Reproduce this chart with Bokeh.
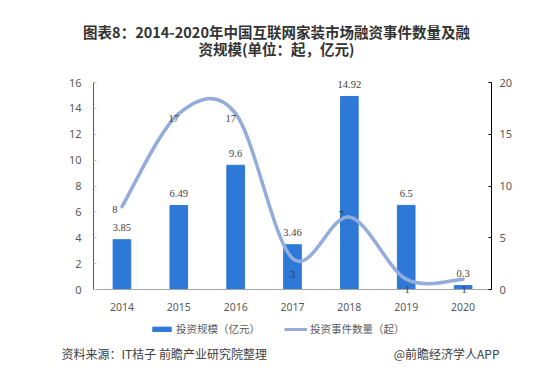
import numpy as np
from bokeh.plotting import figure
from bokeh.models import (Range1d, LinearAxis, FixedTicker, ColumnDataSource,
                          LabelSet, Label, Legend, LegendItem)
from bokeh.embed import file_html
from bokeh.resources import INLINE

# ---------------- data ----------------
years = ["2014", "2015", "2016", "2017", "2018", "2019", "2020"]
amounts = [3.85, 6.49, 9.6, 3.46, 14.92, 6.5, 0.3]        # 投资规模（亿元）
events = [8, 17, 17, 3, 7, 1, 1]                           # 投资事件数量（起）
amount_ticks = [0, 2, 4, 6, 8, 10, 12, 14, 16]
event_ticks = [0, 5, 10, 15, 20]
title_lines = ["图表8：2014-2020年中国互联网家装市场融资事件数量及融",
               "资规模(单位：起，亿元)"]
legend_labels = ["投资规模（亿元）", "投资事件数量（起）"]
source_note = "资料来源：IT桔子 前瞻产业研究院整理"
credit = "@前瞻经济学人APP"

# ---------------- style / layout ----------------
BAR = "#2E78D8"
LINE = "#93ACDB"
FONT = "Noto Sans"
CJK = "Noto Sans CJK SC"
W, H = 550, 388
PL, PR, PT, PB = 93, 491, 82, 289      # plot-area edges on the canvas (px)
n = len(years)
AMAX, EMAX = amount_ticks[-1], event_ticks[-1]

# the frame spans the whole canvas; ranges chosen so the plot area sits at PL..PR, PT..PB
xppu = (PR - PL) / n
x_lo, x_hi = -0.5 - PL / xppu, n - 0.5 + (W - PR) / xppu
appu = (PB - PT) / AMAX
eppu = (PB - PT) / EMAX

p = figure(width=W, height=H, output_backend="svg", toolbar_location=None,
           x_range=Range1d(x_lo, x_hi),
           y_range=Range1d(-(H - PB) / appu, AMAX + PT / appu),
           min_border=0, min_border_left=0, min_border_right=0,
           min_border_top=0, min_border_bottom=0,
           outline_line_color=None, background_fill_color="white",
           border_fill_color="white")
p.grid.visible = False
p.extra_y_ranges = {"cnt": Range1d(-(H - PB) / eppu, EMAX + PT / eppu)}

xs = np.arange(n, dtype=float)

# x axis (drawn at amount = 0)
xa = p.xaxis[0]
xa.fixed_location = 0
xa.bounds = (-0.5, n - 0.5)
xa.ticker = FixedTicker(ticks=list(xs))
xa.major_label_overrides = {i: y for i, y in enumerate(years)}
xa.axis_line_color = "#A6A6A6"
xa.major_tick_line_color = None
xa.minor_tick_line_color = None
xa.major_label_text_font = FONT
xa.major_label_text_font_size = "10.5px"
xa.major_label_text_color = "#595959"
xa.major_label_standoff = 7

# left axis
ya = p.yaxis[0]
ya.fixed_location = -0.5
ya.bounds = (0, AMAX)
ya.ticker = FixedTicker(ticks=amount_ticks)
ya.axis_line_color = "#595959"
ya.major_tick_line_color = "#BFBFBF"
ya.major_tick_in = 3
ya.major_tick_out = 0
ya.minor_tick_line_color = None
ya.major_label_text_font = FONT
ya.major_label_text_font_size = "11px"
ya.major_label_text_color = "#595959"
ya.major_label_standoff = 12

# right axis
ra = LinearAxis(y_range_name="cnt", ticker=FixedTicker(ticks=event_ticks))
ra.fixed_location = n - 0.5
ra.bounds = (0, EMAX)
ra.axis_line_color = "#000000"
ra.major_tick_line_color = "#000000"
ra.major_tick_in = 3
ra.major_tick_out = 0
ra.minor_tick_line_color = None
ra.major_label_text_font = FONT
ra.major_label_text_font_size = "11px"
ra.major_label_text_color = "#595959"
ra.major_label_standoff = 8
p.add_layout(ra, "right")

# bars
bsrc = ColumnDataSource(dict(x=xs, amt=amounts, txt=[f"{a:g}" for a in amounts]))
bar_r = p.vbar(x="x", top="amt", width=0.31, source=bsrc, color=BAR)

# smooth line (Catmull-Rom style bezier segments through the data points)
ev = np.array(events, dtype=float)
px = np.concatenate([[xs[0]], xs, [xs[-1]]])
py = np.concatenate([[ev[0]], ev, [ev[-1]]])
P0x, P1x, P2x, P3x = px[0:n - 1], px[1:n], px[2:n + 1], px[3:n + 2]
P0y, P1y, P2y, P3y = py[0:n - 1], py[1:n], py[2:n + 1], py[3:n + 2]
p.bezier(x0=P1x, y0=P1y, x1=P2x, y1=P2y,
         cx0=P1x + (P2x - P0x) / 6, cy0=P1y + (P2y - P0y) / 6,
         cx1=P2x - (P3x - P1x) / 6, cy1=P2y - (P3y - P1y) / 6,
         y_range_name="cnt", line_color=LINE, line_width=3.5, line_cap="round")
# single-point line: invisible on the chart, used for the legend swatch
line_leg = p.line(x=xs[:1], y=events[:1], y_range_name="cnt",
                  line_color=LINE, line_width=3)

# data labels
p.add_layout(LabelSet(x="x", y="amt", text="txt", source=bsrc, y_offset=12,
                      text_align="center", text_baseline="middle",
                      text_font=FONT, text_font_size="10.5px", text_color="#404040"))
ev_dx = [-7, -5, -5, 0, -8, 1, 1]
ev_dy = [-3, -5, -5, -16, 3, -10, -10]
esrc = ColumnDataSource(dict(x=xs, ev=events, txt=[str(e) for e in events],
                             dx=ev_dx, dy=ev_dy))
p.add_layout(LabelSet(x="x", y="ev", text="txt", source=esrc, y_range_name="cnt",
                      x_offset="dx", y_offset="dy",
                      text_align="center", text_baseline="middle",
                      text_font=FONT, text_font_size="10.5px", text_color="#404040"))


def scr(cx, cy):
    # canvas coordinates (from top-left) -> screen units (from bottom-left)
    return cx, H - cy


# title
for line, cy in zip(title_lines, [31, 48]):
    x, y = scr(276, cy)
    p.add_layout(Label(x=x, y=y, x_units="screen", y_units="screen", text=line,
                       text_align="center", text_baseline="middle", text_font=CJK,
                       text_font_style="bold", text_font_size="14.5px",
                       text_color="#333333"))

# footer
x, y = scr(61, 353)
p.add_layout(Label(x=x, y=y, x_units="screen", y_units="screen", text=source_note,
                   text_align="left", text_baseline="middle", text_font=CJK,
                   text_font_size="12px", text_color="#404040"))
x, y = scr(499, 353)
p.add_layout(Label(x=x, y=y, x_units="screen", y_units="screen", text=credit,
                   text_align="right", text_baseline="middle", text_font=CJK,
                   text_font_size="12px", text_color="#404040"))

# legend
lx, ly = scr(150, 336)
legend = Legend(items=[LegendItem(label=legend_labels[0], renderers=[bar_r]),
                       LegendItem(label=legend_labels[1], renderers=[line_leg])],
                orientation="horizontal", location=(lx, ly),
                border_line_color=None, background_fill_alpha=0,
                padding=0, margin=0, spacing=24, label_standoff=3,
                glyph_width=23, glyph_height=6, label_height=14,
                label_text_font=CJK, label_text_font_size="10.5px",
                label_text_color="#595959")
p.add_layout(legend)

open("out.html", "w").write(file_html(p, INLINE))
